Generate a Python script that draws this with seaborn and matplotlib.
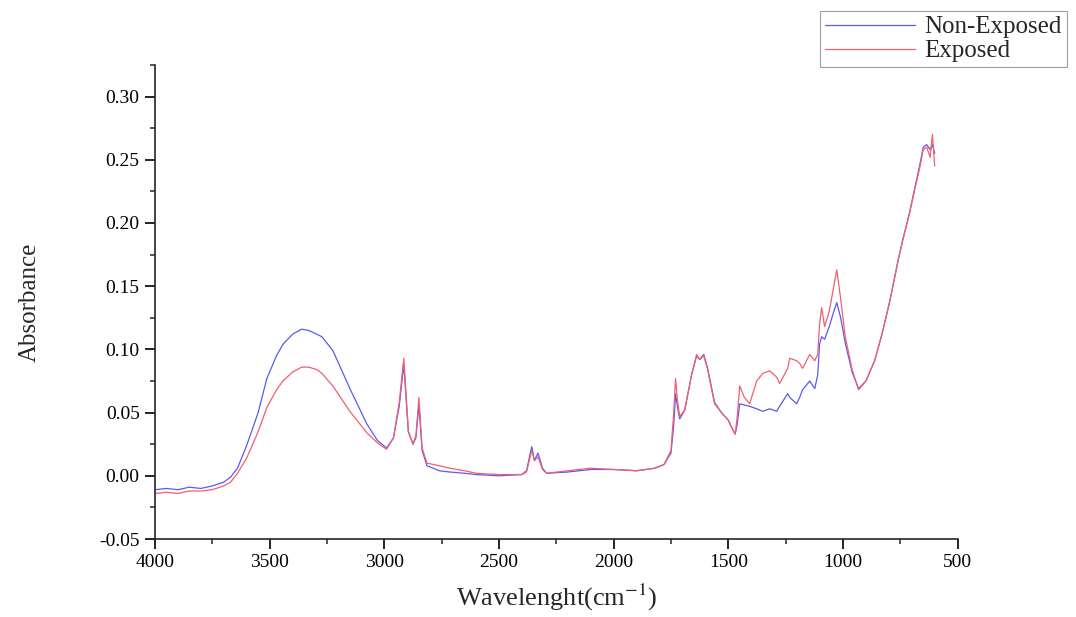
import matplotlib
matplotlib.use('Agg')
import pandas as pd
import matplotlib.pyplot as plt
import seaborn as sns
from matplotlib.ticker import MultipleLocator, AutoMinorLocator

# FTIR spectra
wavenumber = [4000, 3950, 3900, 3850, 3800, 3750, 3700, 3670, 3640, 3600, 3550, 3512, 3470, 3442,
              3400, 3360, 3330, 3294, 3272, 3224, 3150, 3076, 3030, 2990, 2960, 2935, 2915, 2895,
              2875, 2862, 2849, 2835, 2814, 2760, 2714, 2650, 2600, 2500, 2400, 2380, 2357, 2345,
              2330, 2310, 2292, 2200, 2100, 2000, 1900, 1820, 1780, 1750, 1738, 1730, 1722, 1712,
              1690, 1660, 1638, 1625, 1607, 1590, 1560, 1530, 1500, 1485, 1470, 1462, 1450, 1430,
              1407, 1376, 1350, 1319, 1289, 1276, 1241, 1232, 1202, 1189, 1176, 1145, 1123, 1110,
              1102, 1093, 1080, 1060, 1040, 1027, 1010, 990, 960, 932, 900, 862, 830, 796, 760,
              740, 709, 690, 666, 650, 635, 620, 610, 600]

non_exposed = [-0.011, -0.010, -0.011, -0.009, -0.010, -0.008, -0.005, -0.001, 0.006, 0.024, 0.050,
               0.077, 0.095, 0.104, 0.112, 0.116, 0.115, 0.112, 0.110, 0.099, 0.069, 0.041, 0.028,
               0.022, 0.030, 0.055, 0.088, 0.035, 0.025, 0.030, 0.056, 0.020, 0.008, 0.004, 0.003,
               0.002, 0.001, 0.000, 0.001, 0.004, 0.023, 0.012, 0.018, 0.006, 0.002, 0.003, 0.005,
               0.005, 0.004, 0.006, 0.009, 0.018, 0.040, 0.065, 0.055, 0.045, 0.052, 0.080, 0.095,
               0.092, 0.096, 0.085, 0.058, 0.050, 0.044, 0.038, 0.033, 0.040, 0.057, 0.056, 0.055,
               0.053, 0.051, 0.053, 0.051, 0.055, 0.065, 0.062, 0.057, 0.062, 0.068, 0.075, 0.069,
               0.080, 0.104, 0.110, 0.108, 0.118, 0.130, 0.137, 0.125, 0.105, 0.082, 0.069, 0.075,
               0.091, 0.112, 0.138, 0.170, 0.186, 0.209, 0.225, 0.245, 0.260, 0.262, 0.258, 0.262,
               0.255]

exposed = [-0.014, -0.013, -0.014, -0.012, -0.012, -0.011, -0.008, -0.005, 0.002, 0.014, 0.035,
           0.054, 0.068, 0.075, 0.082, 0.086, 0.086, 0.084, 0.081, 0.071, 0.051, 0.034, 0.026,
           0.021, 0.030, 0.058, 0.093, 0.035, 0.025, 0.032, 0.062, 0.022, 0.010, 0.008, 0.006,
           0.004, 0.002, 0.001, 0.001, 0.003, 0.020, 0.012, 0.015, 0.005, 0.002, 0.004, 0.006,
           0.005, 0.004, 0.006, 0.009, 0.020, 0.050, 0.077, 0.060, 0.047, 0.052, 0.080, 0.096,
           0.092, 0.095, 0.084, 0.057, 0.050, 0.044, 0.038, 0.033, 0.045, 0.071, 0.062, 0.057,
           0.075, 0.081, 0.083, 0.078, 0.073, 0.085, 0.093, 0.091, 0.089, 0.085, 0.096, 0.091,
           0.096, 0.120, 0.133, 0.118, 0.130, 0.150, 0.163, 0.140, 0.110, 0.084, 0.068, 0.075,
           0.091, 0.112, 0.138, 0.170, 0.186, 0.208, 0.224, 0.243, 0.258, 0.260, 0.252, 0.270,
           0.245]

sns.set_style('ticks')
plt.rcParams['font.family'] = ['Liberation Serif', 'DejaVu Serif']
plt.rcParams['mathtext.fontset'] = 'stix'
plt.rcParams['xtick.direction'] = 'out'
plt.rcParams['ytick.direction'] = 'out'

df = pd.DataFrame({'wavenumber': wavenumber + wavenumber,
                   'absorbance': non_exposed + exposed,
                   'sample': ['Non-Exposed'] * len(wavenumber) + ['Exposed'] * len(wavenumber)})

fig = plt.figure(figsize=(10.76, 6.17), dpi=100)
ax = fig.add_axes([0.144, 0.1264, 0.746, 0.7683])
sns.lineplot(data=df, x='wavenumber', y='absorbance', hue='sample', sort=False,
             palette={'Non-Exposed': '#5a5af0', 'Exposed': '#f0606e'},
             linewidth=0.9, ax=ax, legend=False)

ax.set_xlim(4000, 500)
ax.set_ylim(-0.05, 0.325)
ax.xaxis.set_major_locator(MultipleLocator(500))
ax.xaxis.set_minor_locator(AutoMinorLocator(2))
ax.yaxis.set_major_locator(MultipleLocator(0.05))
ax.yaxis.set_minor_locator(AutoMinorLocator(2))
ax.yaxis.set_major_formatter(plt.FuncFormatter(lambda v, p: f'{v:.2f}'))
ax.tick_params(which='major', length=7, width=1.2, labelsize=14, colors='black', pad=4)
ax.tick_params(which='minor', length=3.5, width=1.1)
for s in ['left', 'bottom']:
    ax.spines[s].set_linewidth(1.2)
sns.despine(ax=ax)

ax.set_xlabel(r'Wavelenght(cm$^{-1}$)', fontsize=19, labelpad=8)
ax.set_ylabel('Absorbance', fontsize=18, labelpad=42)

handles = [plt.Line2D([], [], color='#5a5af0', linewidth=0.9),
           plt.Line2D([], [], color='#f0606e', linewidth=0.9)]
leg = fig.legend(handles, ['Non-Exposed', 'Exposed'], loc='upper right',
                 bbox_to_anchor=(1067 / 1076, 1 - 11 / 617), fontsize=18,
                 frameon=True, fancybox=False, handlelength=3.6, borderpad=0.2,
                 labelspacing=0.05, handletextpad=0.4, borderaxespad=0)
leg.get_frame().set_edgecolor('#888888')
leg.get_frame().set_linewidth(0.8)

plt.savefig('out.png', dpi=100)
plt.close()
